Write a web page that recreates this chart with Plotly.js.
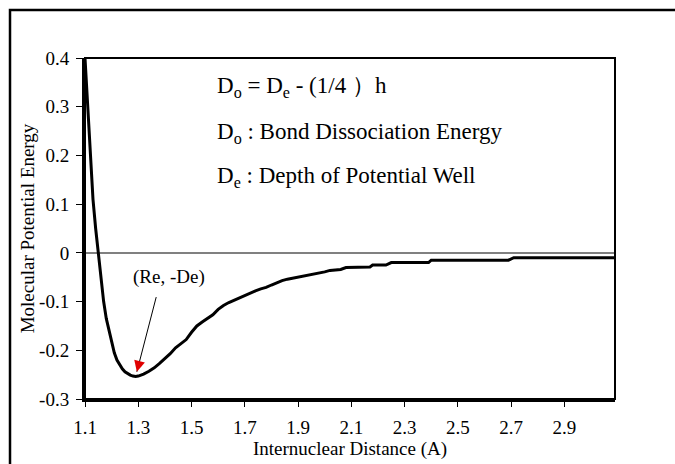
<!DOCTYPE html>
<html>
<head>
<meta charset="utf-8">
<script src="https://cdn.plot.ly/plotly-3.0.1.min.js"></script>
<style>html,body{margin:0;padding:0;background:#fff;}#chart{width:675px;height:464px;}</style>
</head>
<body>
<div id="chart"></div>
<script>
// Internuclear distance (A)
const distance = [1.10,1.11,1.12,1.13,1.14,1.15,1.16,1.17,1.18,1.19,1.20,1.21,1.22,1.23,1.24,1.25,1.26,1.27,1.28,1.29,1.30,
  1.32,1.34,1.36,1.38,1.40,1.42,1.44,1.46,1.48,1.50,1.52,1.54,1.56,1.58,1.60,1.62,1.64,1.66,1.68,1.70,
  1.72,1.74,1.76,1.78,1.80,1.82,1.84,1.86,1.88,1.90,1.92,1.94,1.96,1.98,2.00,2.02,2.04,2.06,2.08,2.10,
  2.17,2.18,2.23,2.25,2.39,2.40,2.69,2.71,3.09];
// Molecular potential energy
const energy = [0.400,0.300,0.200,0.110,0.050,0.000,-0.055,-0.100,-0.135,-0.160,-0.185,-0.205,-0.220,-0.230,-0.238,-0.244,-0.248,-0.251,-0.253,-0.254,-0.253,
  -0.249,-0.243,-0.236,-0.227,-0.218,-0.207,-0.195,-0.187,-0.178,-0.163,-0.150,-0.142,-0.135,-0.127,-0.116,-0.108,-0.102,-0.097,-0.093,-0.088,
  -0.083,-0.078,-0.074,-0.071,-0.066,-0.061,-0.057,-0.054,-0.052,-0.050,-0.047,-0.045,-0.043,-0.041,-0.039,-0.036,-0.035,-0.034,-0.030,-0.030,
  -0.029,-0.025,-0.025,-0.020,-0.020,-0.015,-0.015,-0.010,-0.010];
const xTickVals = [1.1,1.3,1.5,1.7,1.9,2.1,2.3,2.5,2.7,2.9];
const xTickText = ['1.1','1.3','1.5','1.7','1.9','2.1','2.3','2.5','2.7','2.9'];
const yTickVals = [0.4,0.3,0.2,0.1,0,-0.1,-0.2,-0.3];
const yTickText = ['0.4','0.3','0.2','0.1','0','-0.1','-0.2','-0.3'];
const noteLines = ['D<sub>o</sub> = D<sub>e</sub> - (1/4 ）h','D<sub>o</sub> : Bond Dissociation Energy','D<sub>e</sub> : Depth of Potential Well'];
const minLabel = '(Re, -De)';

const FONT = '"Liberation Serif", "Times New Roman", serif';
let iMin = 0;
energy.forEach((v,i)=>{ if(v < energy[iMin]) iMin = i; });

const trace = {x: distance, y: energy, type:'scatter', mode:'lines',
  line:{color:'#000', width:3}, hoverinfo:'skip'};

const noteY = [0.9135, 0.7815, 0.6496];
const annotations = noteLines.map((t,i)=>({xref:'paper', yref:'paper', x:0.2453, y:noteY[i],
  xanchor:'left', yanchor:'middle', text:t, showarrow:false, font:{family:FONT, size:23, color:'#000'}}));
annotations.push({xref:'paper', yref:'paper', x:0.159, y:0.3587, text:minLabel, showarrow:false,
  xanchor:'center', yanchor:'middle', font:{family:FONT, size:19, color:'#000'}});
// arrow line (black)
annotations.push({x:distance[iMin], y:energy[iMin], xref:'x', yref:'y', text:'', showarrow:true,
  arrowhead:0, arrowwidth:1, arrowcolor:'#000', ax:21, ay:-81, standoff:5});
// red arrow head
annotations.push({x:distance[iMin], y:energy[iMin], xref:'x', yref:'y', text:'', showarrow:true,
  arrowhead:2, arrowsize:2.2, arrowwidth:1, arrowcolor:'#e00000', ax:3.2, ay:-12.5, standoff:5});

const layout = {
  width:675, height:464,
  margin:{l:85, r:60, t:58, b:65},
  paper_bgcolor:'#fff', plot_bgcolor:'#fff',
  showlegend:false,
  font:{family:FONT, size:19, color:'#000'},
  xaxis:{range:[1.1,3.09], tickvals:xTickVals, ticktext:xTickText, showgrid:false, zeroline:false,
    showline:true, linewidth:3, linecolor:'#000', ticks:'outside', ticklen:5, tickwidth:1, tickcolor:'#000',
    ticklabelstandoff:4, tickfont:{family:FONT, size:19, color:'#000'},
    title:{text:'Internuclear Distance (A)', font:{family:FONT, size:19, color:'#000'}, standoff:2}},
  yaxis:{range:[-0.3,0.4], tickvals:yTickVals, ticktext:yTickText, showgrid:false,
    zeroline:true, zerolinecolor:'#808080', zerolinewidth:1.5,
    showline:true, linewidth:3, linecolor:'#000', ticks:'outside', ticklen:6, tickwidth:1, tickcolor:'#000',
    ticklabelstandoff:3, tickfont:{family:FONT, size:19, color:'#000'},
    title:{text:'Molecular Potential Energy', font:{family:FONT, size:19, color:'#000'}, standoff:0}},
  shapes:[
    {type:'rect', xref:'paper', yref:'paper', x0:0, x1:1, y0:0, y1:1, line:{color:'#000', width:2}},
    {type:'rect', xref:'paper', yref:'paper', x0:-0.1415, x1:1.3, y0:-0.3, y1:1.1408, line:{color:'#000', width:2.5}}
  ],
  annotations: annotations
};
Plotly.newPlot('chart', [trace], layout, {displayModeBar:false, staticPlot:true});
</script>
</body>
</html>
